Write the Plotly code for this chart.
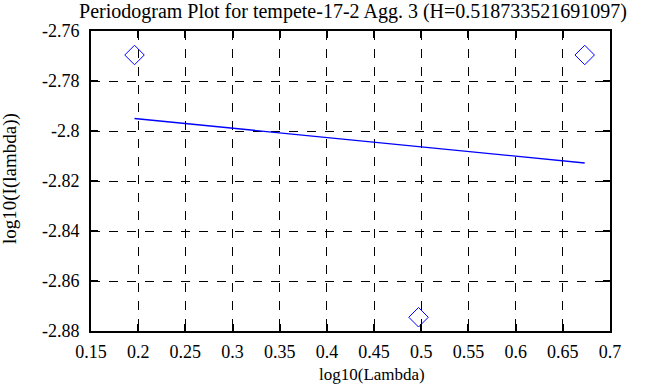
import plotly.graph_objects as go

# Data
log_lambda = [0.1961, 0.4971, 0.6732]
log_I = [-2.7696, -2.8745, -2.7696]
fit_x = [0.1961, 0.6732]
fit_y = [-2.7950, -2.8128]

x_ticks = [0.15, 0.2, 0.25, 0.3, 0.35, 0.4, 0.45, 0.5, 0.55, 0.6, 0.65, 0.7]
x_ticktext = ["0.15", "0.2", "0.25", "0.3", "0.35", "0.4", "0.45", "0.5", "0.55", "0.6", "0.65", "0.7"]
y_ticks = [-2.88, -2.86, -2.84, -2.82, -2.8, -2.78, -2.76]
y_ticktext = ["-2.88", "-2.86", "-2.84", "-2.82", "-2.8", "-2.78", "-2.76"]

FONT = "Liberation Serif, Times New Roman, serif"

# plot area in pixels
L, R, T, B = 91, 610, 31, 331
W, H = 668, 387
pw, ph = R - L, B - T

fig = go.Figure()
fig.add_trace(go.Scatter(
    x=log_lambda, y=log_I, mode="markers",
    marker=dict(symbol="diamond-open", size=15, color="#0000ff", line=dict(width=1, color="#0000ff")),
    showlegend=False, hoverinfo="skip"))
fig.add_trace(go.Scatter(
    x=fit_x, y=fit_y, mode="lines",
    line=dict(color="#0000ff", width=1.3),
    showlegend=False, hoverinfo="skip"))

axis_common = dict(
    showline=True, linecolor="black", linewidth=2, mirror="ticks",
    ticks="inside", ticklen=7, tickwidth=1.5, tickcolor="black",
    showgrid=True, gridcolor="black", gridwidth=1, griddash="dash",
    zeroline=False,
    tickfont=dict(family=FONT, size=18, color="black"),
)

fig.update_layout(
    width=W, height=H,
    margin=dict(l=L, r=W - R, t=T, b=H - B),
    paper_bgcolor="white", plot_bgcolor="white",
    font=dict(family=FONT, size=16, color="black"),
    title=dict(text="Periodogram Plot for tempete-17-2 Agg. 3 (H=0.518733521691097)",
               x=353 / W, xanchor="center", y=1 - 11 / H, yanchor="middle",
               font=dict(family=FONT, size=20, color="black")),
    xaxis=dict(range=[0.15, 0.7], tickvals=x_ticks, ticktext=x_ticktext,
               ticklabelstandoff=3, **axis_common),
    yaxis=dict(range=[-2.88, -2.76], tickvals=y_ticks, ticktext=y_ticktext,
               ticklabelstandoff=6, **axis_common),
)

fig.add_annotation(text="log10(Lambda)", xref="paper", yref="paper",
                   x=(372 - L) / pw, y=-(374 - B) / ph, xanchor="center", yanchor="middle",
                   showarrow=False, font=dict(family=FONT, size=17, color="black"))
fig.add_annotation(text="log10(I(lambda))", xref="paper", yref="paper",
                   x=-(L - 10) / pw, y=(B - 179) / ph, xanchor="center", yanchor="middle", textangle=-90,
                   showarrow=False, font=dict(family=FONT, size=19, color="black"))

fig.write_html("out.html", config={"displayModeBar": False},
               post_script="document.body.style.margin='0';document.body.style.overflow='hidden';")
